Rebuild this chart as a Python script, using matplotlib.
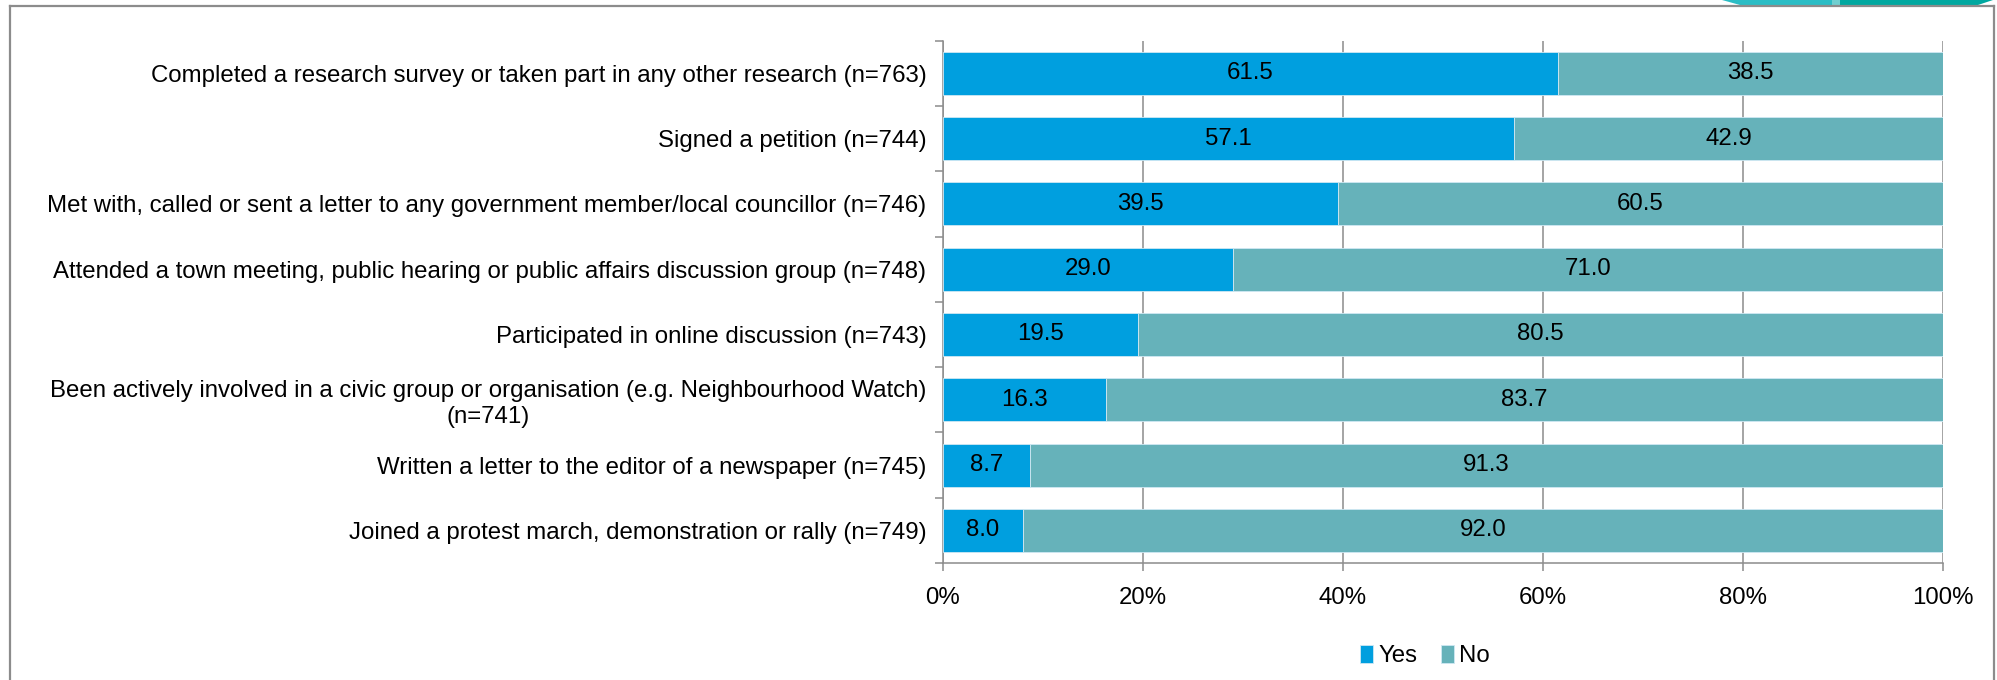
import matplotlib
matplotlib.use("Agg")
import matplotlib.pyplot as plt
from matplotlib.patches import Polygon
import numpy as np

categories = [
    "Completed a research survey or taken part in any other research (n=763)",
    "Signed a petition (n=744)",
    "Met with, called or sent a letter to any government member/local councillor (n=746)",
    "Attended a town meeting, public hearing or public affairs discussion group (n=748)",
    "Participated in online discussion (n=743)",
    "Been actively involved in a civic group or organisation (e.g. Neighbourhood Watch)\n(n=741)",
    "Written a letter to the editor of a newspaper (n=745)",
    "Joined a protest march, demonstration or rally (n=749)",
]
yes_values = [61.5, 57.1, 39.5, 29.0, 19.5, 16.3, 8.7, 8.0]
no_values = [38.5, 42.9, 60.5, 71.0, 80.5, 83.7, 91.3, 92.0]
series_names = ["Yes", "No"]
x_ticks = [0, 20, 40, 60, 80, 100]
x_tick_labels = ["0%", "20%", "40%", "60%", "80%", "100%"]

YES_COLOR = "#009FDF"
NO_COLOR = "#66B2BA"
GRID = "#8C8C8C"

plt.rcParams['font.family'] = ['Liberation Sans', 'DejaVu Sans']
FS = 17.3

W, H = 1997, 680
fig = plt.figure(figsize=(W / 100, H / 100), dpi=100)

def fx(px):
    return px / W

def fy(py):
    return 1 - py / H

# outer frame
for xs, ys in [([10, 10], [H, 6]), ([10, 1994], [6, 6]), ([1994, 1994], [6, H])]:
    fig.add_artist(plt.Line2D([fx(v) for v in xs], [fy(v) for v in ys], color=GRID, lw=1.6,
                              transform=fig.transFigure))

# decorative teal strip at top right
fig.add_artist(Polygon([[fx(1722), fy(0)], [fx(1740), fy(5)], [fx(1832), fy(5)], [fx(1832), fy(0)]],
                       closed=True, transform=fig.transFigure, facecolor="#2BBDC5", edgecolor="none"))
fig.add_artist(Polygon([[fx(1832), fy(0)], [fx(1832), fy(5)], [fx(1840), fy(5)], [fx(1840), fy(0)]],
                       closed=True, transform=fig.transFigure, facecolor="#70CFD0", edgecolor="none"))
fig.add_artist(Polygon([[fx(1840), fy(0)], [fx(1840), fy(5)], [fx(1978), fy(5)], [fx(1993), fy(0)]],
                       closed=True, transform=fig.transFigure, facecolor="#00A8A0", edgecolor="none"))

left, right = 943 / W, 1943 / W
top, bottom = 1 - 40.7 / H, 1 - 563 / H
ax = fig.add_axes([left, bottom, right - left, top - bottom])

n = len(categories)
y = np.arange(n)
bh = 0.66
yes = np.array(yes_values)
no = np.array(no_values)
b1 = ax.barh(y, yes, height=bh, color=YES_COLOR, edgecolor="#CFE8F3", linewidth=0.6, label=series_names[0], zorder=3)
b2 = ax.barh(y, no, left=yes, height=bh, color=NO_COLOR, edgecolor="#CFE8F3", linewidth=0.6, label=series_names[1], zorder=3)

for i in range(n):
    ax.text(yes[i] / 2, y[i], f"{yes[i]:.1f}", ha="center", va="center", fontsize=FS, color="black", zorder=4)
    ax.text(yes[i] + no[i] / 2, y[i], f"{no[i]:.1f}", ha="center", va="center", fontsize=FS, color="black", zorder=4)

ax.set_xlim(0, 100)
ax.set_ylim(n - 0.5, -0.5)
ax.set_xticks(x_ticks)
ax.set_xticklabels(x_tick_labels, fontsize=FS)
ax.xaxis.grid(True, color=GRID, lw=1.1, zorder=0)
ax.set_axisbelow(True)

ax.set_yticks(y)
ax.set_yticklabels(categories, fontsize=FS, multialignment="center")
ax.set_yticks(np.arange(-0.5, n, 1.0), minor=True)
ax.tick_params(axis="y", which="major", length=0, pad=12)
ax.tick_params(axis="y", which="minor", length=6, width=1.1, color=GRID, direction="out")
ax.tick_params(axis="x", which="major", length=6, width=1.1, color=GRID, direction="out", pad=11)

for s in ["top", "right"]:
    ax.spines[s].set_visible(False)
for s in ["left", "bottom"]:
    ax.spines[s].set_color(GRID)
    ax.spines[s].set_linewidth(1.1)

fig.legend(handles=[b1, b2], labels=series_names, loc="center", bbox_to_anchor=(1425 / W, 1 - 656 / H),
           ncol=2, frameon=False, fontsize=FS, handlelength=0.55, handleheight=0.75, handletextpad=0.2,
           columnspacing=1.0)

fig.savefig("out.png", dpi=100)
